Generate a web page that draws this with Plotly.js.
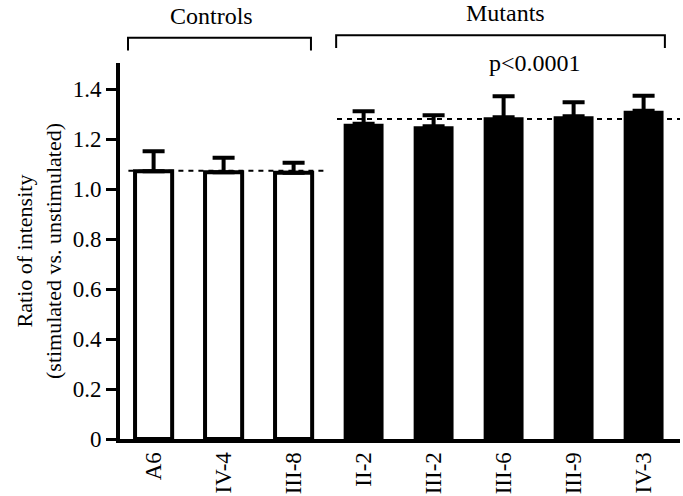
<!DOCTYPE html>
<html>
<head>
<meta charset="utf-8">
<script src="https://cdn.plot.ly/plotly-3.0.1.min.js"></script>
<style>html,body{margin:0;padding:0;background:#fff;}#chart{width:683px;height:496px;}</style>
</head>
<body>
<div id="chart"></div>
<script>
// Data
const controlLabels = ["A6", "IV-4", "III-8"];
const controlMeans  = [1.072, 1.068, 1.066];
const controlErrs   = [0.080, 0.058, 0.040];
const mutantLabels  = ["II-2", "III-2", "III-6", "III-9", "IV-3"];
const mutantMeans   = [1.262, 1.252, 1.288, 1.292, 1.314];
const mutantErrs    = [0.050, 0.044, 0.084, 0.056, 0.060];
const controlGroupMean = 1.074;
const mutantGroupMean  = 1.281;
const yTicks = [0, 0.2, 0.4, 0.6, 0.8, 1.0, 1.2, 1.4];
const yTickText = ["0", "0.2", "0.4", "0.6", "0.8", "1.0", "1.2", "1.4"];

const allLabels = controlLabels.concat(mutantLabels);
const ctrlX = controlLabels.map((_, i) => i);
const mutX = mutantLabels.map((_, i) => i + controlLabels.length);
const font = "Liberation Serif, Times New Roman, serif";

const traces = [
  {
    type: "bar", x: ctrlX, y: controlMeans, width: 0.53,
    marker: {color: "#ffffff", line: {color: "#000", width: 4}},
    error_y: {type: "data", symmetric: false, array: controlErrs,
              arrayminus: controlErrs.map(() => 0), color: "#000", thickness: 4, width: 11},
    hoverinfo: "skip", showlegend: false
  },
  {
    type: "bar", x: mutX, y: mutantMeans, width: 0.57,
    marker: {color: "#000000", line: {color: "#000", width: 0}},
    error_y: {type: "data", symmetric: false, array: mutantErrs,
              arrayminus: mutantErrs.map(() => 0), color: "#000", thickness: 4, width: 11},
    hoverinfo: "skip", showlegend: false
  },
  {
    type: "scatter", mode: "lines",
    x: [ctrlX[0] - 0.36, ctrlX[ctrlX.length - 1] + 0.44],
    y: [controlGroupMean, controlGroupMean],
    line: {color: "#000", width: 2, dash: "5px,5px"},
    hoverinfo: "skip", showlegend: false
  },
  {
    type: "scatter", mode: "lines",
    x: [mutX[0] - 0.38, mutX[mutX.length - 1] + 0.52],
    y: [mutantGroupMean, mutantGroupMean],
    line: {color: "#000", width: 2, dash: "5px,5px"},
    hoverinfo: "skip", showlegend: false
  }
];

const layout = {
  width: 683, height: 496,
  margin: {l: 120, r: 3, t: 63, b: 57},
  paper_bgcolor: "#fff", plot_bgcolor: "#fff",
  barmode: "overlay",
  font: {family: font, color: "#000", size: 22},
  xaxis: {
    range: [-0.48, 7.52], showgrid: false, zeroline: false,
    tickmode: "array", tickvals: allLabels.map((_, i) => i), ticktext: allLabels,
    tickangle: -90, ticks: "", showline: true, linecolor: "#000", linewidth: 4,
    tickfont: {family: font, size: 23, color: "#000"}, fixedrange: true
  },
  yaxis: {
    range: [0, 1.505], showgrid: false, zeroline: false,
    tickmode: "array", tickvals: yTicks, ticktext: yTickText,
    ticks: "outside", ticklen: 10, tickwidth: 3, tickcolor: "#000",
    showline: true, linecolor: "#000", linewidth: 4,
    tickfont: {family: font, size: 23, color: "#000"},
    title: {text: "Ratio of intensity<br>(stimulated vs. unstimulated)",
            font: {family: font, size: 22, color: "#000"}, standoff: 6},
    fixedrange: true
  },
  shapes: [
    {type: "path", xref: "paper", yref: "paper",
     path: "M 0.0143,1.033 L 0.0143,1.067 L 0.341,1.067 L 0.341,1.033",
     line: {color: "#000", width: 2}},
    {type: "path", xref: "paper", yref: "paper",
     path: "M 0.386,1.040 L 0.386,1.074 L 0.973,1.074 L 0.973,1.040",
     line: {color: "#000", width: 2}}
  ],
  annotations: [
    {text: "Controls", xref: "paper", yref: "paper", x: 0.164, y: 1.126, showarrow: false,
     font: {family: font, size: 24, color: "#000"}, yanchor: "middle", xanchor: "center"},
    {text: "Mutants", xref: "paper", yref: "paper", x: 0.6875, y: 1.134, showarrow: false,
     font: {family: font, size: 24, color: "#000"}, yanchor: "middle", xanchor: "center"},
    {text: "p<0.0001", xref: "paper", yref: "paper", x: 0.741, y: 1.0, showarrow: false,
     font: {family: font, size: 24, color: "#000"}, yanchor: "middle", xanchor: "center"}
  ]
};

Plotly.newPlot("chart", traces, layout, {displayModeBar: false, staticPlot: true});
</script>
</body>
</html>
